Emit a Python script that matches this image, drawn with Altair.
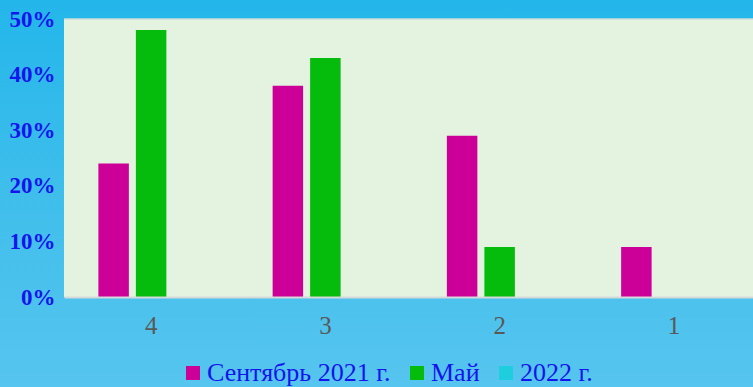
import altair as alt
import pandas as pd

# Grade categories along the x axis and the share of students (percent) per period
categories = ["4", "3", "2", "1"]
series = ["Сентябрь 2021 г.", "Май", "2022 г."]
september_2021 = [24, 38, 29, 9]
may = [48, 43, 9, 0]
year_2022 = [0, 0, 0, 0]
series_colors = ["#cc0099", "#05bb0b", "#1ecdde"]
y_ticks = [0, 10, 20, 30, 40, 50]

rows = []
for name, vals in zip(series, [september_2021, may, year_2022]):
    for cat, v in zip(categories, vals):
        rows.append({"grade": cat, "period": name, "share": v})
df = pd.DataFrame(rows)

W, H = 689, 278
PAD_L, PAD_T = 64, 19
TOTAL_W, TOTAL_H = 753, 387
SERIF = "Liberation Serif, DejaVu Serif, serif"

one = alt.Data(values=[{"k": 1}])

# Watery blue backdrop behind the whole figure
backdrop = alt.Chart(one).mark_rect(
    clip=False,
    color=alt.LinearGradient(
        gradient="linear",
        stops=[
            alt.GradientStop(color="#23b6ea", offset=0),
            alt.GradientStop(color="#3fbeeb", offset=0.5),
            alt.GradientStop(color="#56c5ef", offset=1),
        ],
        x1=0, x2=0, y1=0, y2=1,
    ),
).encode(
    x=alt.value(-PAD_L), x2=alt.value(TOTAL_W - PAD_L),
    y=alt.value(-PAD_T), y2=alt.value(TOTAL_H - PAD_T),
)

# Pale green plot panel
panel = alt.Chart(one).mark_rect(color="#e4f3df").encode(
    x=alt.value(0), x2=alt.value(W), y=alt.value(0), y2=alt.value(H)
)

top_edge = alt.Chart(one).mark_rule(color="#cfdcdc", strokeWidth=1.5).encode(
    x=alt.value(0), x2=alt.value(W), y=alt.value(0)
)

bars = alt.Chart(df).mark_bar().encode(
    x=alt.X(
        "grade:N",
        sort=categories,
        scale=alt.Scale(range=[0, 697], paddingInner=0, paddingOuter=0),
        axis=alt.Axis(
            title=None, ticks=False, labelAngle=0, labelPadding=16,
            labelFont=SERIF, labelFontSize=25, labelColor="#595959",
            domainColor="#d6d9d9", domainWidth=2, zindex=1,
        ),
    ),
    xOffset=alt.XOffset(
        "period:N", sort=series,
        scale=alt.Scale(paddingInner=0.187, paddingOuter=0.917),
    ),
    y=alt.Y(
        "share:Q",
        scale=alt.Scale(domain=[0, 50], nice=False),
        axis=alt.Axis(
            title=None, values=y_ticks, labelExpr="datum.value + '%'",
            ticks=False, domain=False, grid=False, labelPadding=9,
            labelFont=SERIF, labelFontSize=23, labelFontWeight="bold",
            labelColor="#1414ee", zindex=1,
        ),
    ),
    color=alt.Color(
        "period:N",
        sort=series,
        scale=alt.Scale(domain=series, range=series_colors),
        legend=alt.Legend(
            title=None, orient="none", direction="horizontal",
            legendX=116, legendY=341, padding=0,
            symbolType="square", symbolSize=196, symbolStrokeWidth=0,
            symbolOpacity=1, labelFont=SERIF, labelFontSize=26,
            labelColor="#1414ee", labelOffset=1, labelLimit=400, columnPadding=13,
        ),
    ),
)

chart = alt.layer(backdrop, panel, top_edge, bars).properties(
    width=W, height=H,
    autosize=alt.AutoSizeParams(type="none"),
    padding={"left": PAD_L, "top": PAD_T, "right": TOTAL_W - PAD_L - W,
             "bottom": TOTAL_H - PAD_T - H},
).configure(background="#3bbdea").configure_view(stroke=None)

chart.save("out.html", embed_options={"renderer": "svg", "actions": False})
